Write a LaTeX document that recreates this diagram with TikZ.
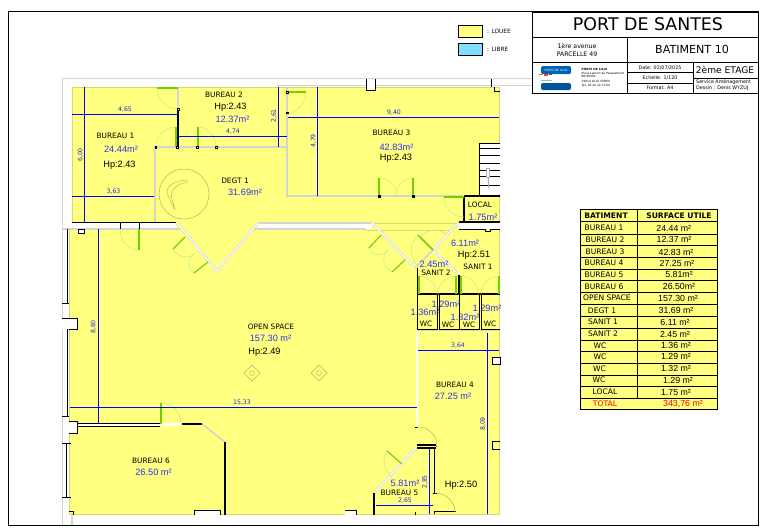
\documentclass[tikz,border=0pt]{standalone}
\usepackage{fontspec}
\setmainfont{DejaVu Sans}
\newfontfamily\arialf{Liberation Sans}
\usetikzlibrary{calc}
\newcommand{\fsz}[1]{\fontsize{#1}{#1}\selectfont}
\definecolor{plan}{HTML}{FFFF80}
\definecolor{olive}{HTML}{D8D870}
\definecolor{wallgray}{HTML}{D4D4D0}
\definecolor{dimblue}{HTML}{0000FF}
\definecolor{dimtxt}{HTML}{2A2AE0}
\definecolor{areatxt}{HTML}{3030F0}
\definecolor{leaf}{HTML}{70D000}
\definecolor{swingc}{HTML}{C4EE88}
\definecolor{libre}{HTML}{80DFFF}
\tikzset{
  frameline/.style={draw=black,line width=0.9pt},
  roomlbl/.style={inner sep=0,font=\fsz{7.4}},
  tallbl/.style={inner sep=0,font=\fsz{7.6}},
  hdrlbl/.style={inner sep=0,font=\fsz{7.6}\bfseries},
  tabval/.style={inner sep=0,font=\arialf\fsz{8.8}},
  area/.style={inner sep=0,text=areatxt,font=\arialf\fsz{9.2}},
  hplbl/.style={inner sep=0,font=\arialf\fsz{9.2}},
  dimlbl/.style={inner sep=0,text=dimtxt,font=\fsz{6.2}},
  tiny/.style={inner sep=0,font=\fsz{4.8}},
  micro/.style={inner sep=0,anchor=west,font=\fsz{2.9}},
  dimline/.style={draw=dimblue,line width=0.9pt},
  wallg/.style={draw=wallgray,line width=1.3pt},
  wallk/.style={draw=black,line width=0.8pt},
  wallt/.style={draw=black,line width=1.7pt},
  leafl/.style={draw=leaf,line width=1.1pt},
  swingl/.style={draw=swingc,line width=0.55pt},
  tanl/.style={draw=olive!85!black,line width=0.55pt},
  jamb/.style={draw=black,fill=plan,line width=0.3pt},
}
\newcommand{\swingarc}[7][swingl]{\draw[#1] (#4,#5) .. controls ({#4+.552*(#6-#2)},{#5+.552*(#7-#3)}) and ({#6+.552*(#4-#2)},{#7+.552*(#5-#3)}) .. (#6,#7);}
\newcommand{\door}[6]{\swingarc{#1}{#2}{#3}{#4}{#5}{#6}\draw[leafl] (#1,#2) -- (#3,#4);}
\newcommand{\dblwall}[1]{\draw[draw=wallgray,line width=2.5pt] #1; \draw[draw=white,line width=1.2pt] #1;}
\begin{document}
\begin{tikzpicture}[x=1pt,y=-1pt]
\useasboundingbox (0,0) rectangle (767,530);
\fill[white] (0,0) rectangle (767,530);
% plan surface
\fill[plan] (72,87) -- (499.5,87) -- (499.5,514.5) -- (69,514.5) -- (69,222) -- (72,222) -- cycle;
\draw[olive,line width=0.7pt] (72,222) -- (72,87) -- (499.5,87) -- (499.5,514.5) -- (69,514.5) -- (69,229);
% outer walls
\draw[wallg] (62.5,525) -- (62.5,78.5) -- (532,78.5);
\draw[wallg] (277,85.5) -- (532,85.5);
\draw[wallg] (72,515) -- (72,525);
\fill[white] (63,222.5) rectangle (176,229);
\fill[white] (258,223) rectangle (372,229);
\draw[wallg] (62,229) -- (180,229);
\draw[wallg] (258,223) -- (372,223);
\draw[wallg] (252,229) -- (366,229);
\draw[olive,line width=0.5pt] (372,223) -- (458,223);
\draw[olive,line width=0.5pt] (366,230.5) -- (452,230.5);
\fill[white] (459,222.5) rectangle (500,229);
\dblwall{(177,223) -- (217,271) -- (258,223)}
\dblwall{(372,223) -- (415,268)}
\dblwall{(458,223) -- (433,250)}
\draw[draw=wallgray,line width=1.6pt] (433,250) -- (415,268);
\dblwall{(433,250) -- (459,275)}
% top-right wall bits
\draw[black,line width=0.8pt,fill=white] (366,79) -- (366,90) -- (375,90) -- (375,79);
\draw[wallk] (491,79) -- (491,87);
\draw[wallk] (494,87) -- (494,91.5) -- (500,91.5);
% interior gray walls
\draw[wallg,line width=1.6pt] (155,222) -- (155,147) -- (287,147);
\draw[wallg,line width=1.6pt] (287,87) -- (287,196) -- (463,196);
\draw[wallg] (178,87) -- (178,109);
\draw[wallg] (417,330) -- (500,330);
\dblwall{(417,330) -- (417,427)}
\dblwall{(416,448) -- (374,493)}
\draw[wallg,line width=1.6pt] (202,424) -- (225,442);
% black walls
\draw[wallt,line width=1.1pt] (178,109) -- (178,147);
\draw[wallk,line width=1pt] (72,222) -- (176,222);
\draw[wallk] (120,222) -- (120,229);
\draw[wallk] (139,222) -- (139,229);
\draw[wallk,fill=white] (78,229) rectangle (84.5,233.5);
% stairs
\fill[white] (479.5,143) rectangle (499.5,196);
\foreach \sy in {143.3,148.3,155,163.3,170,176.7,185,196}{\draw[black,line width=0.7pt] (479.5,\sy) -- (500,\sy);}
\draw[black,line width=0.8pt] (479.5,143) -- (479.5,196);
\draw[gray!60,line width=0.5pt,fill=white] (486.5,168) rectangle (489.5,177);
\draw[gray!60,line width=0.5pt] (488,177) -- (488,188);
% local
\draw[wallt,line width=1.2pt] (464,196) -- (500,196);
\draw[wallt,line width=1.2pt] (464,196) -- (464,222);
\draw[wallt,line width=1.2pt] (459,222) -- (500,222);
\draw[wallk] (459,229) -- (485,229) -- (485,231.5) -- (490,231.5) -- (490,229) -- (500,229);
% sanit and WC
\draw[wallk] (417,268) -- (417,294);
\draw[wallt,line width=1.1pt] (459,275) -- (459,294);
\draw[wallt,line width=1.3pt] (417,294) -- (500,294);
\foreach \wx in {417,437.5,439,459,479,481}{\draw[wallk] (\wx,294) -- (\wx,329.5);}
\draw[wallk] (417,329.5) -- (437.5,329.5);
\draw[wallk] (439,329.5) -- (479,329.5);
\draw[wallk] (481,329.5) -- (500,329.5);
% bureau 4 / 5 walls
\draw[wallk] (415,427) -- (418,427);
\draw[wallt] (417,445.3) -- (436,445.3);
\draw[wallt] (417,448) -- (436,448);
\draw[red,line width=1pt] (435.5,446) -- (437,446);
\draw[wallt,line width=1.1pt] (434.5,449) -- (434.5,493);
\draw[wallk] (433,493) -- (437,493);
\draw[wallt,line width=1.2pt] (434.5,514) -- (434.5,511.5) -- (456,511.5);
\draw[wallt,line width=1.1pt] (374,493) -- (374,515);
\draw[wallk] (415.7,511.5) -- (415.7,514.5);
\draw[wallk,fill=white] (492,357.5) -- (500,357.5) -- (500,364) -- (492,364) -- cycle;
\draw[wallk] (500,441.5) -- (492,441.5) -- (492,449) -- (500,449);
% bureau 6 walls
\fill[white] (77,423.5) rectangle (160,426);
\draw[wallk] (77,423) -- (160,423);
\draw[wallk] (77,426) -- (160,426);
\fill[white] (161,423) rectangle (181,425.5);
\draw[wallt] (182,424) -- (202,424);
\draw[wallt,line width=1.8pt] (225,442) -- (225,515);
\draw[wallk,fill=white] (194,515) -- (194,510.5) -- (220.5,510.5) -- (220.5,515);
\fill[white] (345,510.5) rectangle (356,515);
\draw[wallk] (345,510.5) -- (356,510.5) -- (356,515);
% facade
\fill[white] (62,318) rectangle (77,329);
\draw[wallk] (62,318) -- (77,318) -- (77,329) -- (69,329);
\fill[white] (63,421) rectangle (77.5,433.5);
\draw[wallk] (69,421) -- (77.5,421) -- (77.5,433.5) -- (69,433.5);
\draw[wallk] (67,229) -- (67,303);
\draw[wallk] (62,303) -- (69,303);
\draw[wallk] (67,329) -- (67,416);
\draw[wallk] (62,416) -- (69,416);
\draw[wallk] (66.5,443) -- (66.5,497);
\draw[wallk] (62,443) -- (71,443);
\draw[wallk] (62,497) -- (71,497);
\draw[wallk] (69,511.5) -- (73,511.5) -- (73,515);
% doors
\door{178}{88}{157}{88}{178}{109}
\door{176}{147}{176}{127}{156}{147}
\door{198}{147}{198}{127}{216}{147}
\door{139}{229}{139}{250}{120}{229}
\door{287}{92}{306}{92}{287}{113}
\door{379}{196}{379}{178}{397}{196}
\door{413}{196}{413}{178}{396}{196}
\door{464}{197}{444}{197}{464}{217}
\door{185}{237}{173}{249}{195}{253}
\door{208}{262}{194}{273}{195}{253}
\door{381}{235}{369}{248}{388}{250}
\door{405}{260}{392}{272}{388}{250}
\door{433}{250}{418}{235}{417}{265}
\door{433}{250}{420}{237}{447}{235}
\door{419}{294}{419}{276}{437}{294}
\door{456}{294}{456}{276}{438}{294}
\door{461}{294}{461}{276}{478}{294}
\door{499}{294}{499}{276}{481}{294}
\door{402}{464}{387}{451}{392}{477}
\door{161}{424}{161}{403}{181}{424}
\draw[leafl,line width=1.5pt] (176,147) -- (176,127);
\draw[leafl,line width=1.6pt] (139,229) -- (139,250);
\draw[leafl,line width=1.6pt] (161,424) -- (161,403);
\draw[leafl,line width=1.5pt] (444,197) -- (464,197);
\swingarc[tanl]{417}{447}{417}{427}{437}{446}
\swingarc[tanl]{435}{512}{435}{493}{455}{512}
% jambs
\foreach \jx in {155.5,177,197,216}{\draw[jamb] (\jx-0.8,146.2) rectangle (\jx+0.8,147.8);}
\draw[jamb] (177.2,108.2) rectangle (178.8,109.8);
\draw[jamb] (286.2,112) rectangle (287.8,113.6);
\draw[jamb] (286.2,91.2) rectangle (287.8,92.8);
\draw[jamb,fill=black] (378.3,195) rectangle (380,197);
\draw[jamb,fill=black] (412.3,195) rectangle (414,197);
% rotunda and fixtures
\draw[olive!85!black,line width=0.55pt] (184,194) circle (25);
\draw[olive!85!black,line width=0.5pt] (187,180) .. controls (176,180) and (166,186) .. (167,193) -- (175,210) -- (171,195) .. controls (172,188) and (178,184) .. (187,182) -- cycle;
\foreach \dx in {252,319}{
 \draw[olive!85!black,line width=0.5pt] (\dx-8,373) -- (\dx,365) -- (\dx+8,373) -- (\dx,381) -- cycle;
 \draw[olive!85!black,line width=0.5pt] (\dx,373) circle (2.4);
}
% dimension lines
\draw[dimline] (72,114) -- (178,114);
\draw[dimline] (84.5,87) -- (84.5,222);
\draw[dimline] (72,196) -- (154,196);
\draw[dimline] (179,136) -- (287,136);
\draw[dimline] (278,87) -- (278,147);
\draw[dimline] (288,117.5) -- (499,117.5);
\draw[dimline] (317.5,87) -- (317.5,196);
\draw[dimline] (98,229) -- (98,423);
\draw[dimline] (70,407) -- (417,407);
\draw[dimline] (418,350) -- (499,350);
\draw[dimline] (487,333) -- (487,514);
\draw[dimline] (429.5,449) -- (429.5,514);
\draw[dimline] (376,505) -- (433,505);
% dimension labels
\node[dimlbl] (d465) at (125,110) {4,65};
\node[dimlbl,rotate=90] (d600) at (80.5,155) {6,00};
\node[dimlbl] (d363) at (113.5,191.5) {3,63};
\node[dimlbl] (d474) at (233,131.5) {4,74};
\node[dimlbl,rotate=90] (d261) at (274,116) {2,61};
\node[dimlbl] (d940) at (394,113) {9,40};
\node[dimlbl,rotate=90] (d479) at (313.5,141) {4,79};
\node[dimlbl,rotate=90] (d860) at (93.5,327) {8,60};
\node[dimlbl] (d1533) at (242,402.5) {15,33};
\node[dimlbl] (d364) at (458,345.5) {3,64};
\node[dimlbl,rotate=90] (d809) at (483,424) {8,09};
\node[dimlbl,rotate=90] (d285) at (425,482) {2,85};
\node[dimlbl] (d265) at (405,500.5) {2,65};
% room labels
\node[roomlbl] (b1) at (115.5,136) {BUREAU 1};
\node[area] (b1a) at (121,149) {24.44m²};
\node[hplbl] (b1h) at (119.5,165) {Hp:2.43};
\node[roomlbl] (b2) at (224,95) {BUREAU 2};
\node[hplbl] (b2h) at (230.5,107) {Hp:2.43};
\node[area] (b2a) at (232.5,119) {12.37m²};
\node[roomlbl] (dg) at (235,181) {DEGT 1};
\node[area] (dga) at (245,192) {31.69m²};
\node[roomlbl] (b3) at (391.5,133) {BUREAU 3};
\node[area] (b3a) at (396.5,147) {42.83m²};
\node[hplbl] (b3h) at (396,158.5) {Hp:2.43};
\node[roomlbl] (lo) at (480,205) {LOCAL};
\node[area] (loa) at (483,217) {1.75m²};
\node[area] (s1a) at (465,243) {6.11m²};
\node[hplbl] (s1h) at (474,255) {Hp:2.51};
\node[roomlbl] (s1) at (478,267) {SANIT 1};
\node[area] (s2a) at (434,264) {2.45m²};
\node[roomlbl] (s2) at (436,273) {SANIT 2};
\node[area] (w2a) at (446,304) {1.29m²};
\node[area] (w1a) at (425,312) {1.36m²};
\node[area] (w3a) at (465,317) {1.32m²};
\node[area] (w4a) at (487,308) {1.29m²};
\node[roomlbl] (w1) at (426,324) {WC};
\node[roomlbl] (w2) at (448,325) {WC};
\node[roomlbl] (w3) at (469,325) {WC};
\node[roomlbl] (w4) at (490,324) {WC};
\node[roomlbl] (os) at (271,327) {OPEN SPACE};
\node[area] (osa) at (270.5,338.5) {157.30 m²};
\node[hplbl] (osh) at (264.5,352) {Hp:2.49};
\node[roomlbl] (b4) at (455,385) {BUREAU 4};
\node[area] (b4a) at (453,396) {27.25 m²};
\node[hplbl] (b4h) at (461,485) {Hp:2.50};
\node[area] (b5a) at (405,483) {5.81m²};
\node[roomlbl] (b5) at (399.5,492.5) {BUREAU 5};
\node[roomlbl] (b6) at (151,461) {BUREAU 6};
\node[area] (b6a) at (153.5,472) {26.50 m²};
% page frame and title block
\draw[frameline] (8.5,525) rectangle (758,11.5);
\fill[white] (532,12) rectangle (758,93);
\draw[frameline] (532,12) rectangle (758,93);
\draw[frameline] (532,37) -- (758,37);
\draw[frameline] (532,62) -- (758,62);
\draw[frameline] (627,37) -- (627,93);
\draw[frameline] (693,62) -- (693,93);
\draw[frameline] (627,72) -- (693,72);
\draw[frameline] (627,83) -- (693,83);
\draw[frameline] (693,78) -- (758,78);
\node[inner sep=0,font=\fsz{17.4}] (title) at (648,24.5) {PORT DE SANTES};
\node[inner sep=0,font=\fsz{6.2}] (addr1) at (577,46) {1ère avenue};
\node[inner sep=0,font=\fsz{6.2}] (addr2) at (577,54.5) {PARCELLE 49};
\node[inner sep=0,font=\fsz{11.1}] (bat) at (692,49) {BATIMENT 10};
\node[tiny] (date) at (660,67.5) {Date: 02/07/2025};
\node[tiny] (ech) at (660,78) {Echelle: 1/120};
\node[tiny] (fmt) at (660,88) {Format: A4};
\node[inner sep=0,font=\fsz{9.1}] (etage) at (725,69.5) {2ème ETAGE};
\node[tiny,anchor=west] (serv) at (696,82.3) {Service Aménagement};
\node[tiny,anchor=west] (dess) at (696,88) {Dessin : Denis WYZUJ};
% logos
\fill[blue!45!cyan!70!black,rounded corners=1.5pt] (541,66) rectangle (571,74);
\node[inner sep=0,text=white,font=\fsz{2.9}] (logo1) at (556,70) {PORTS DE LILLE};
\fill[blue!45!cyan!60!black,rounded corners=2pt] (541,83) rectangle (571,90);
\draw[gray!60,line width=0.5pt] (541,80) -- (552,80);
\fill[orange] (539,73.5) rectangle (543,75);
\fill[red!80] (544,74) rectangle (548,75.5);
\fill[green!60!black] (549,73.5) rectangle (552,75);
\node[micro,font=\fsz{2.9}\bfseries] (m1) at (581.5,69.5) {PORTS DE LILLE};
\node[micro] (m2) at (581.5,74) {Place Lamort de Pesquement};
\node[micro] (m3) at (581.5,76.7) {BB 80081};
\node[micro] (m4) at (581.5,81.5) {59014 LILLE CEDEX};
\node[micro] (m5) at (581.5,85.5) {Tel: 03.20.22.73.80};
% legend
\draw[line width=0.8pt,fill=plan] (458,25) rectangle (482,37);
\draw[line width=0.8pt,fill=libre] (458,43.5) rectangle (482,55.5);
\node[inner sep=0,anchor=west,font=\fsz{5.8}] (leg1) at (487,31.5) {: LOUEE};
\node[inner sep=0,anchor=west,font=\fsz{5.8}] (leg2) at (487,49.5) {: LIBRE};
% area table
\fill[plan] (580,209.5) rectangle (717,409.5);
\foreach \ty in {221.7,234,245.7,257.3,269,280.7,292.7,304.7,316.7,328.7,340.7,351.7,363.3,375,386.7,398.7}{\draw[line width=0.7pt] (580,\ty) -- (717,\ty);}
\draw[line width=0.7pt] (637,209.5) -- (637,398.7);
\draw[line width=0.9pt] (580,209.5) rectangle (717,409.5);
\node[hdrlbl] (th1) at (606,216) {BATIMENT};
\node[hdrlbl] (th2) at (679,216) {SURFACE UTILE};
\foreach \i/\ny/\nm/\nx/\vl/\vx in {
 1/228/BUREAU 1/604/24.44 m²/673.8,
 2/239.7/BUREAU 2/605/12.37 m²/674,
 3/252/BUREAU 3/605/42.83 m²/676,
 4/263/BUREAU 4/604/27.25 m²/677,
 5/274.7/BUREAU 5/604/5.81m²/679,
 6/286.7/BUREAU 6/604/26.50m²/679,
 7/298/OPEN SPACE/607/157.30 m²/678,
 8/310.7/DEGT 1/602/31.69 m²/676,
 9/322/SANIT 1/603/6.11 m²/675,
 10/334/SANIT 2/603/2.45 m²/675,
 11/345.7/WC/600/1.36 m²/676,
 12/356.7/WC/600/1.29 m²/676,
 13/368.3/WC/599.5/1.32 m²/676,
 14/380/WC/599/1.29 m²/678,
 15/392/LOCAL/605/1.75 m²/676}{
 \node[tallbl] (tn\i) at (\nx,\ny) {\nm};
 \node[tabval] (tv\i) at (\vx,\ny) {\vl};
}
\node[tallbl,text=red] (tnt) at (605,404) {TOTAL};
\node[tabval,text=red] (tvt) at (683,404) {343,76 m²};
\end{tikzpicture}
\end{document}
